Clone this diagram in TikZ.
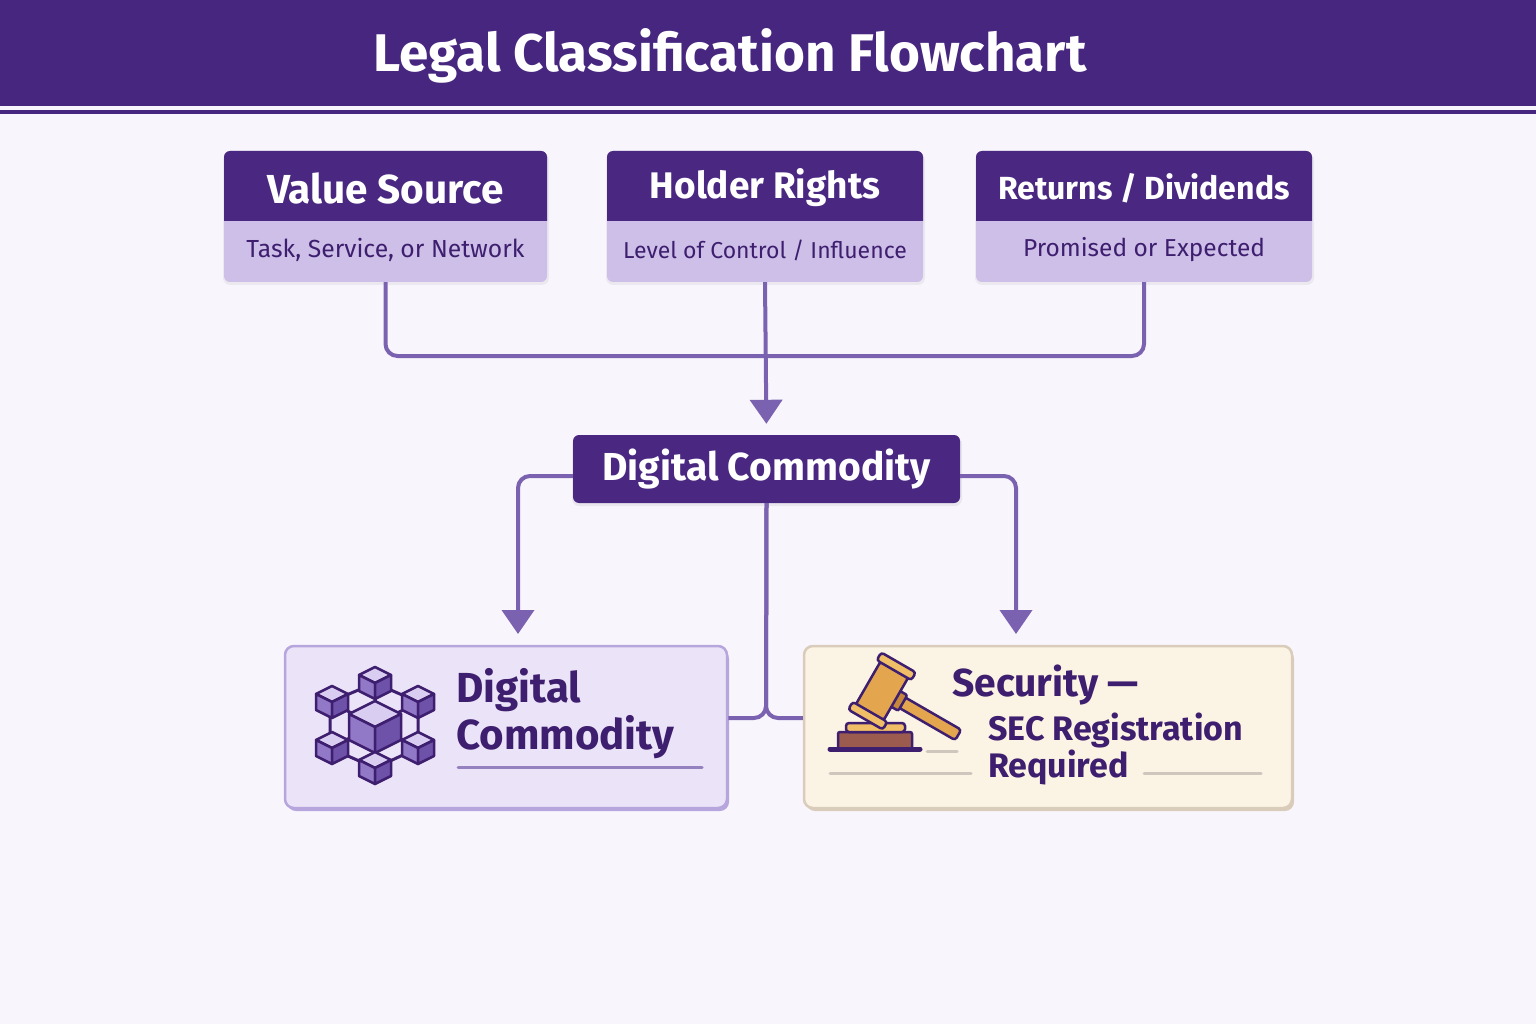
\documentclass[tikz,border=0pt]{standalone}
\usepackage{fontspec}
\setmainfont{Fira Sans}
\usetikzlibrary{arrows.meta,calc}
\definecolor{bg}{HTML}{F8F6FC}
\definecolor{hdr}{HTML}{47267F}
\definecolor{boxdark}{HTML}{4A2882}
\definecolor{boxlight}{HTML}{CDBFE8}
\definecolor{txt}{HTML}{3E1E6E}
\definecolor{conn}{HTML}{7B62B0}
\definecolor{lavfill}{HTML}{EBE3F7}
\definecolor{lavborder}{HTML}{B7A5DD}
\definecolor{cream}{HTML}{FBF3E4}
\definecolor{creamborder}{HTML}{D9CCBA}
\definecolor{greyline}{HTML}{CFC7BE}
\definecolor{cubetop}{HTML}{D9CDF1}
\definecolor{cubeleft}{HTML}{9279C8}
\definecolor{cuberight}{HTML}{6E52AA}
\definecolor{gold}{HTML}{E3A64E}
\definecolor{goldlight}{HTML}{F0BE66}
\definecolor{golddark}{HTML}{C6873A}
\definecolor{brownbase}{HTML}{9B5B4E}
\tikzset{
  connline/.style={draw=conn, line width=4pt, rounded corners=12pt},
  arrowtip/.style={-{Triangle[width=32pt,length=24pt]}},
  dkbox/.style={fill=boxdark, rounded corners=6pt, draw=none},
  ttl/.style={text=white},
  sub/.style={text=txt},
  bigtxt/.style={text=txt, font=\bfseries\fontsize{42}{46}\selectfont, anchor=base west, inner sep=0pt},
  sectxt/.style={text=txt, font=\bfseries\fontsize{34}{38}\selectfont, anchor=base west, inner sep=0pt},
  grey/.style={draw=greyline, line width=3pt, line cap=round},
  cubeedge/.style={draw=txt, line width=3pt},
  pics/cube/.style={code={
    \filldraw[fill=cubetop, draw=txt, line width=2.5pt, line join=round] (0,-#1) -- (#1,-#1/2) -- (0,0) -- (-#1,-#1/2) -- cycle;
    \filldraw[fill=cubeleft, draw=txt, line width=2.5pt, line join=round] (-#1,-#1/2) -- (0,0) -- (0,#1) -- (-#1,#1/2) -- cycle;
    \filldraw[fill=cuberight, draw=txt, line width=2.5pt, line join=round] (0,0) -- (#1,-#1/2) -- (#1,#1/2) -- (0,#1) -- cycle;
  }}
}
\newcommand\topcard[7]{% name, x1, x2, title, subtitle, titlesize, subsize
  \fill[black, opacity=0.05, rounded corners=7pt] (#2-1,153) rectangle (#3+2,285);
  \node[fill=boxlight, rounded corners=6pt, minimum width=#3-#2, minimum height=131, inner sep=0pt] (#1) at ({(#2+#3)/2},216.5) {};
  \fill[boxdark] (#2,221) {[rounded corners=6pt] -- (#2,151) -- (#3,151)} -- (#3,221) -- cycle;
  \node[ttl, font=\bfseries\fontsize{#6}{#6}\selectfont] (#1T) at ({(#2+#3)/2},188) {#4};
  \node[sub, font=\fontsize{#7}{#7}\selectfont] (#1S) at ({(#2+#3)/2},250) {#5};
}
\begin{document}
\begin{tikzpicture}[x=1pt,y=-1pt]
\useasboundingbox (0,0) rectangle (1536,1024);
\fill[bg] (0,0) rectangle (1536,1024);
% header
\fill[hdr] (0,0) rectangle (1536,106);
\fill[hdr] (0,110) rectangle (1536,114);
\node[text=white, font=\bfseries\fontsize{53}{57}\selectfont] (title) at (730,56) {Legal Classification Flowchart};

% top cards
\topcard{vs}{224}{547}{Value Source}{Task, Service, or Network}{40.5}{24.7}
\topcard{hr}{607}{923}{Holder Rights}{Level of Control / Influence}{37}{23}
\topcard{rd}{976}{1312}{Returns / Dividends}{Promised or Expected}{32}{24.5}

% middle node
\fill[black, opacity=0.06, rounded corners=7pt] (572,437) rectangle (962,506);
\node[dkbox, minimum width=387, minimum height=68, inner sep=0pt, text=white, font=\bfseries\fontsize{39}{43}\selectfont] (dc) at (766.5,469) {Digital Commodity};

% bottom cards
\fill[lavborder, rounded corners=9pt] (287,650) rectangle (729,811);
\node[fill=lavfill, draw=lavborder, line width=2.5pt, rounded corners=9pt, minimum width=442, minimum height=162, inner sep=0pt] (lc) at (506,727) {};
\fill[creamborder, rounded corners=9pt] (806,650) rectangle (1294,811);
\node[fill=cream, draw=creamborder, line width=2.5pt, rounded corners=9pt, minimum width=488, minimum height=162, inner sep=0pt] (sc) at (1048,727) {};

% connectors
\coordinate (join) at (766,356);
\draw[connline] (vs.south) -- (vs.south |- join) -- (rd.south |- join) -- (rd.south);
\draw[connline, arrowtip, shorten >=11pt] (hr.south) -- (dc.north);
\coordinate (la) at (518,634);
\coordinate (ra) at (1016,634);
\draw[connline, arrowtip] ([yshift=-7pt]dc.west) -| (la);
\draw[connline, arrowtip] ([yshift=-7pt]dc.east) -| (ra);
\coordinate (mj) at (766,718);
\draw[connline] (dc.south) -- (mj) -- (lc.east |- mj);
\draw[connline] (dc.south) -- (mj) -- (sc.west |- mj);

% cube network icon
\foreach \a/\b in {375/683, 330/702, 330/748, 375/768, 418/748, 418/702}{
  \draw[cubeedge] (375,725) -- (\a,\b);
}
\draw[cubeedge] (375,683) -- (330,702) -- (330,748) -- (375,768) -- (418,748) -- (418,702) -- cycle;
\pic at (375,683) {cube=16};
\pic at (332,702) {cube=16};
\pic at (418,702) {cube=16};
\pic at (375,727) {cube=26};
\pic at (332,748) {cube=16};
\pic at (418,748) {cube=16};
\pic at (375,768) {cube=16};

\node[bigtxt] (dct1) at (456,702) {Digital};
\node[bigtxt] (dct2) at (456,749) {Commodity};
\draw[draw=conn!80, line width=3pt, line cap=round] (458,767) -- (702,767);

% gavel
\fill[brownbase] (838,732) rectangle (912,747);
\draw[txt, line width=2.5pt, rounded corners=2pt] (838,747) -- (838,732) -- (912,732) -- (912,747);
\filldraw[fill=goldlight, draw=txt, line width=2.5pt, rounded corners=3pt] (846,732) rectangle (905,723);
\draw[txt, line width=5pt, line cap=round] (830,749) -- (920,749);
\begin{scope}[shift={(882,691)}, rotate=-30]
  \filldraw[fill=gold, draw=txt, line width=2.5pt, rounded corners=3pt] (17,-6) rectangle (88,6);
  \filldraw[fill=golddark, draw=txt, line width=2.5pt, rounded corners=2pt] (15,-9) rectangle (24,9);
  \filldraw[fill=gold, draw=txt, line width=2.5pt, rounded corners=3pt] (-16,-25) rectangle (16,25);
  \filldraw[fill=goldlight, draw=txt, line width=2.5pt, rounded corners=3pt] (-20,-33) rectangle (20,-24);
  \filldraw[fill=goldlight, draw=txt, line width=2.5pt, rounded corners=3pt] (-20,24) rectangle (20,33);
\end{scope}
\draw[grey] (927,751) -- (957,751);
\draw[grey] (830,773) -- (971,773);
\draw[grey] (1144,773) -- (1261,773);
\node[sectxt, font=\bfseries\fontsize{39}{43}\selectfont] (s1) at (952,696) {Security —};
\node[sectxt] (s2) at (988,740) {SEC Registration};
\node[sectxt] (s3) at (988,777) {Required};
\end{tikzpicture}
\end{document}
